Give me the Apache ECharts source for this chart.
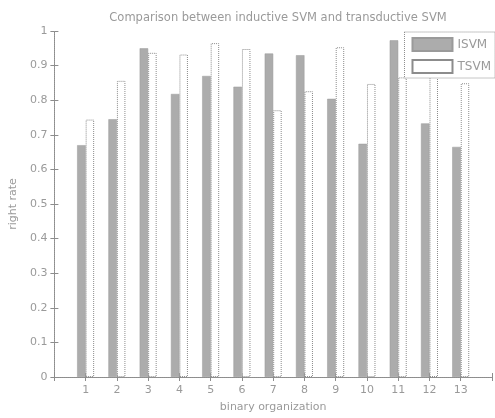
<!DOCTYPE html>
<html>
<head>
<meta charset="utf-8">
<script src="https://cdn.jsdelivr.net/npm/echarts@6/dist/echarts.min.js"></script>
<style>
  html, body { margin: 0; padding: 0; background: #fff; }
  #chart { width: 495px; height: 418px; }
</style>
</head>
<body>
<div id="chart"></div>
<script>
// binary organization index
const groups = [1, 2, 3, 4, 5, 6, 7, 8, 9, 10, 11, 12, 13];
// right rate per method
const isvm = [0.67, 0.745, 0.95, 0.818, 0.87, 0.839, 0.935, 0.93, 0.804, 0.674, 0.973, 0.733, 0.665];
const tsvm = [0.744, 0.856, 0.937, 0.932, 0.965, 0.948, 0.771, 0.826, 0.953, 0.847, 0.866, 0.91, 0.849];
const yTicks = [0, 0.1, 0.2, 0.3, 0.4, 0.5, 0.6, 0.7, 0.8, 0.9, 1];

const textColor = '#9a9a9a';
const frame = { show: true, lineStyle: { color: '#8c8c8c', type: 'dotted', width: 1 } };
const tickIn = { show: true, inside: true, length: 4, lineStyle: { color: '#8c8c8c' } };
const labelFont = { color: textColor, fontSize: 11, fontFamily: 'DejaVu Sans' };

const chart = echarts.init(document.getElementById('chart'));

const option = {
  animation: false,
  title: {
    text: 'Comparison between inductive SVM and transductive SVM',
    left: 273,
    textAlign: 'center',
    top: 7,
    textStyle: { color: textColor, fontSize: 11.5, fontWeight: 'normal', fontFamily: 'DejaVu Sans' },
  },
  legend: {
    orient: 'vertical',
    right: 0,
    top: 32,
    itemWidth: 40,
    itemHeight: 13,
    itemGap: 7,
    padding: [5, 4, 4, 7],
    backgroundColor: '#fff',
    borderColor: '#8c8c8c',
    borderWidth: 1,
    borderType: 'dotted',
    textStyle: { color: textColor, fontSize: 12, fontFamily: 'DejaVu Sans' },
    data: [
      { name: 'ISVM', icon: 'rect' },
      { name: 'TSVM', icon: 'rect' },
    ],
  },
  grid: { left: 53, right: 3, top: 31, bottom: 35 },
  xAxis: [
    {
      type: 'value',
      min: 0,
      max: 14,
      interval: 1,
      name: 'binary organization',
      nameLocation: 'middle',
      nameGap: 25,
      nameTextStyle: labelFont,
      axisLine: frame,
      axisTick: tickIn,
      splitLine: { show: false },
      axisLabel: {
        ...labelFont,
        margin: 8,
        formatter: (v) => (groups.indexOf(v) >= 0 ? String(v) : ''),
      },
    },
    {
      type: 'value',
      position: 'top',
      min: 0,
      max: 14,
      interval: 1,
      axisLine: frame,
      axisTick: tickIn,
      axisLabel: { show: false },
      splitLine: { show: false },
    },
  ],
  yAxis: [
    {
      type: 'value',
      min: 0,
      max: 1,
      interval: 0.1,
      name: 'right rate',
      nameLocation: 'middle',
      nameGap: 29,
      nameTextStyle: labelFont,
      axisLine: frame,
      axisTick: tickIn,
      splitLine: { show: false },
      axisLabel: {
        ...labelFont,
        margin: 7,
        formatter: (v) => {
          const t = yTicks.find((k) => Math.abs(k - v) < 1e-6);
          return t === undefined ? '' : String(t);
        },
      },
    },
    {
      type: 'value',
      position: 'right',
      min: 0,
      max: 1,
      interval: 0.1,
      axisLine: frame,
      axisTick: tickIn,
      axisLabel: { show: false },
      splitLine: { show: false },
    },
  ],
  series: [
    {
      name: 'ISVM',
      type: 'bar',
      barWidth: 8.5,
      barGap: '0%',
      itemStyle: { color: '#acacac', borderColor: '#9a9a9a', borderWidth: 0.5 },
      data: groups.map((g, i) => [g, isvm[i]]),
    },
    {
      name: 'TSVM',
      type: 'bar',
      barWidth: 8.5,
      barGap: '0%',
      itemStyle: { color: '#ffffff', borderColor: '#8c8c8c', borderWidth: 1, borderType: 'dotted' },
      data: groups.map((g, i) => [g, tsvm[i]]),
    },
  ],
};

chart.setOption(option);
</script>
</body>
</html>
